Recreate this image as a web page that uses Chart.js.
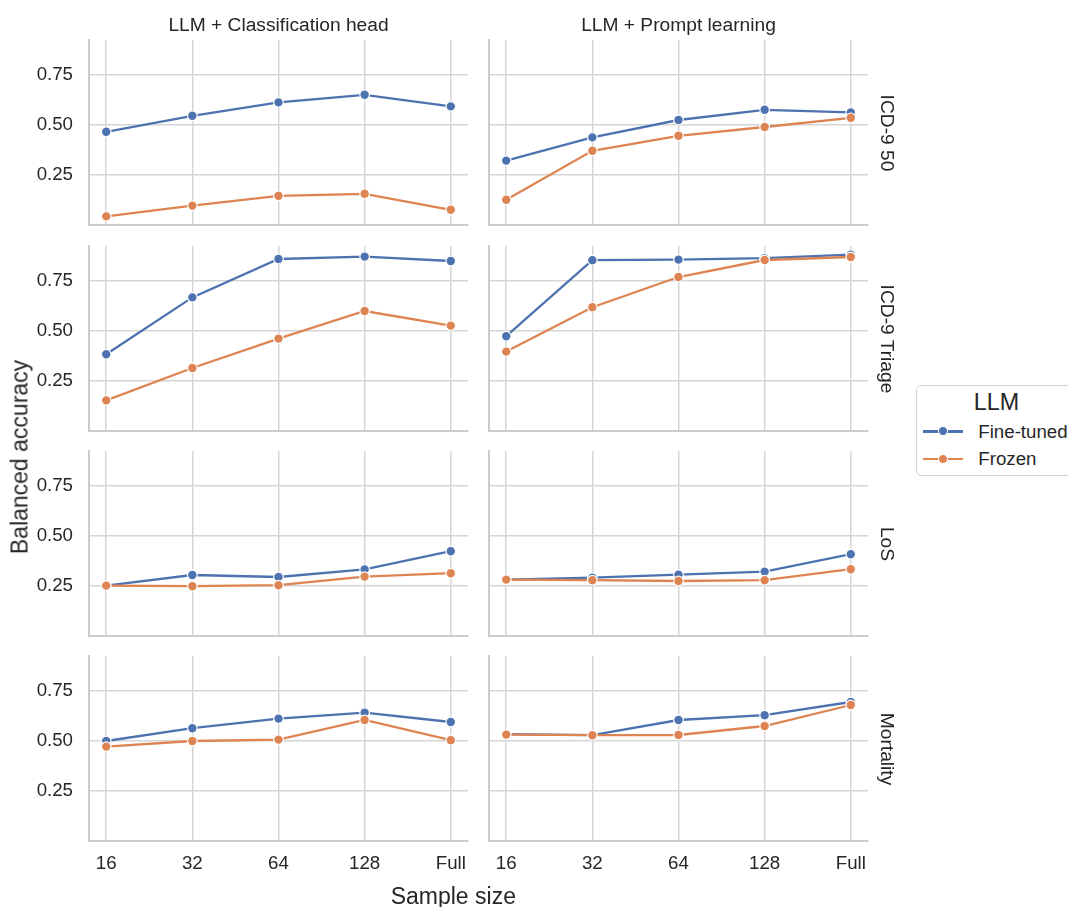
<!DOCTYPE html>
<html>
<head>
<meta charset="utf-8">
<script src="https://cdn.jsdelivr.net/npm/chart.js@4.4.1/dist/chart.umd.min.js"></script>
<style>
  html, body { margin: 0; padding: 0; background: #fff; }
  #fig { position: relative; width: 1068px; height: 907px; overflow: hidden;
         font-family: "Liberation Sans", Arial, sans-serif; color: #262626; }
  #fig canvas { position: absolute; }
  .txt { position: absolute; white-space: nowrap; line-height: 1; }
  .legend { position: absolute; left: 916px; top: 385px; width: 162px; height: 91px;
            border: 1px solid #d4d4d4; border-radius: 5px; background: #fff; box-sizing: border-box; }
  .lg-line { position: absolute; height: 2.3px; width: 40px; }
  .lg-dot { position: absolute; width: 8px; height: 8px; border-radius: 50%; border: 1.2px solid #fff; }
</style>
</head>
<body>
<div id="fig"></div>
<script>
// ---- categories and tick labels ----
const sampleSizes = ['16', '32', '64', '128', 'Full'];
const methods = ['LLM + Classification head', 'LLM + Prompt learning'];
const tasks = ['ICD-9 50', 'ICD-9 Triage', 'LoS', 'Mortality'];
const seriesNames = ['Fine-tuned', 'Frozen'];
const yTickValues = [0.25, 0.50, 0.75];

// ---- balanced accuracy per sample size ----
// ICD-9 50
const headFineTunedIcd50    = [0.466, 0.546, 0.613, 0.651, 0.593];
const headFrozenIcd50       = [0.043, 0.097, 0.146, 0.156, 0.076];
const promptFineTunedIcd50  = [0.322, 0.438, 0.525, 0.576, 0.563];
const promptFrozenIcd50     = [0.126, 0.371, 0.446, 0.490, 0.536];
// ICD-9 Triage
const headFineTunedTriage   = [0.384, 0.668, 0.860, 0.872, 0.850];
const headFrozenTriage      = [0.153, 0.315, 0.462, 0.600, 0.527];
const promptFineTunedTriage = [0.474, 0.854, 0.857, 0.864, 0.882];
const promptFrozenTriage    = [0.397, 0.619, 0.770, 0.855, 0.870];
// LoS
const headFineTunedLos      = [0.252, 0.305, 0.295, 0.333, 0.424];
const headFrozenLos         = [0.252, 0.249, 0.254, 0.297, 0.314];
const promptFineTunedLos    = [0.282, 0.292, 0.307, 0.322, 0.409];
const promptFrozenLos       = [0.282, 0.279, 0.275, 0.279, 0.334];
// Mortality
const headFineTunedMort     = [0.500, 0.564, 0.612, 0.642, 0.595];
const headFrozenMort        = [0.472, 0.500, 0.507, 0.605, 0.504];
const promptFineTunedMort   = [0.534, 0.529, 0.605, 0.629, 0.695];
const promptFrozenMort      = [0.532, 0.529, 0.530, 0.575, 0.680];

// rows = tasks, columns = methods; each cell holds [fine-tuned, frozen]
const grid = [
  [[headFineTunedIcd50, headFrozenIcd50], [promptFineTunedIcd50, promptFrozenIcd50]],
  [[headFineTunedTriage, headFrozenTriage], [promptFineTunedTriage, promptFrozenTriage]],
  [[headFineTunedLos, headFrozenLos], [promptFineTunedLos, promptFrozenLos]],
  [[headFineTunedMort, headFrozenMort], [promptFineTunedMort, promptFrozenMort]]
];

// ---- styling / layout ----
const COLORS = ['#4C72B0', '#DD8452'];
const FONT = '"Liberation Sans", Arial, sans-serif';
const TEXT = '#262626';
const GRID = '#d5d5d5';
const SPINE = '#cccccc';
const COL_LEFT = [89, 489];
const ROW_TOP = [40, 246, 451, 656];
const PW = 379, PH = 185;
const IN_L = 80, IN_R = 8, IN_T = 8, IN_B = 44;

Chart.defaults.font.family = FONT;
Chart.defaults.color = TEXT;

const fig = document.getElementById('fig');

function fixedSize(size, horizontal) {
  return function (scale) {
    if (horizontal) scale.height = size; else scale.width = size;
    scale.paddingTop = scale.paddingBottom = scale.paddingLeft = scale.paddingRight = 0;
  };
}

tasks.forEach((task, r) => {
  methods.forEach((method, c) => {
    const cv = document.createElement('canvas');
    const w = PW + IN_L + IN_R, h = PH + IN_T + IN_B;
    cv.width = w; cv.height = h;
    cv.style.left = (COL_LEFT[c] - IN_L) + 'px';
    cv.style.top = (ROW_TOP[r] - IN_T) + 'px';
    cv.style.width = w + 'px'; cv.style.height = h + 'px';
    fig.appendChild(cv);

    const datasets = grid[r][c].map((vals, k) => ({
      label: seriesNames[k],
      data: vals.map((v, i) => ({ x: i, y: v })),
      borderColor: COLORS[k],
      backgroundColor: COLORS[k],
      pointBackgroundColor: COLORS[k],
      pointBorderColor: '#ffffff',
      pointBorderWidth: 1.2,
      pointRadius: 4.8,
      borderWidth: 2.3,
      tension: 0,
      order: k === 1 ? 0 : 1
    }));

    new Chart(cv, {
      type: 'line',
      data: { datasets },
      options: {
        responsive: false,
        maintainAspectRatio: false,
        animation: false,
        events: [],
        devicePixelRatio: 1,
        layout: { padding: { top: IN_T, right: IN_R, left: 0, bottom: 0 } },
        plugins: { legend: { display: false }, tooltip: { enabled: false } },
        scales: {
          x: {
            type: 'linear',
            min: -0.2, max: 4.2,
            afterBuildTicks: s => { s.ticks = sampleSizes.map((_, i) => ({ value: i })); },
            afterFit: fixedSize(IN_B, true),
            grid: { color: GRID, lineWidth: 1.5, drawTicks: false },
            border: { display: true, color: SPINE, width: 2 },
            ticks: {
              display: r === tasks.length - 1,
              padding: 12,
              maxRotation: 0,
              autoSkip: false,
              font: { size: 18.7, family: FONT },
              color: TEXT,
              callback: v => sampleSizes[v]
            }
          },
          y: {
            type: 'linear',
            min: 0, max: 0.925,
            afterBuildTicks: s => { s.ticks = yTickValues.map(v => ({ value: v })); },
            afterFit: fixedSize(IN_L, false),
            grid: { color: GRID, lineWidth: 1.5, drawTicks: false },
            border: { display: true, color: SPINE, width: 2 },
            ticks: {
              display: c === 0,
              padding: 16,
              font: { size: 18.7, family: FONT },
              color: TEXT,
              callback: v => Number(v).toFixed(2)
            }
          }
        }
      }
    });
  });
});

// ---- facet titles, axis labels ----
function addText(text, cx, cy, size, rot, anchorLeft) {
  const d = document.createElement('div');
  d.className = 'txt';
  d.textContent = text;
  d.style.fontSize = size + 'px';
  d.style.left = cx + 'px';
  d.style.top = cy + 'px';
  const tx = anchorLeft ? '0' : '-50%';
  d.style.transform = `translate(${tx},-50%)` + (rot ? ` rotate(${rot}deg)` : '');
  fig.appendChild(d);
  return d;
}

methods.forEach((m, c) => addText(m, COL_LEFT[c] + PW / 2, 24.5, 19.2));
tasks.forEach((t, r) => addText(t, 886.5, ROW_TOP[r] + PH / 2, 19.2, 90));
addText('Balanced accuracy', 20, 457, 23, -90);
addText('Sample size', 453.3, 896, 23);

// ---- legend ----
const lg = document.createElement('div');
lg.className = 'legend';
fig.appendChild(lg);
addText('LLM', 996.5, 402.6, 23.3);
const entryY = [431.5, 459];
seriesNames.forEach((name, k) => {
  const ln = document.createElement('div');
  ln.className = 'lg-line';
  ln.style.background = COLORS[k];
  ln.style.left = '922.7px';
  ln.style.top = (entryY[k] - 1.15) + 'px';
  fig.appendChild(ln);
  const dot = document.createElement('div');
  dot.className = 'lg-dot';
  dot.style.background = COLORS[k];
  dot.style.left = (942.7 - 5.2) + 'px';
  dot.style.top = (entryY[k] - 5.2) + 'px';
  fig.appendChild(dot);
  addText(name, 978.3, entryY[k], 18.7, 0, true);
});
</script>
</body>
</html>
